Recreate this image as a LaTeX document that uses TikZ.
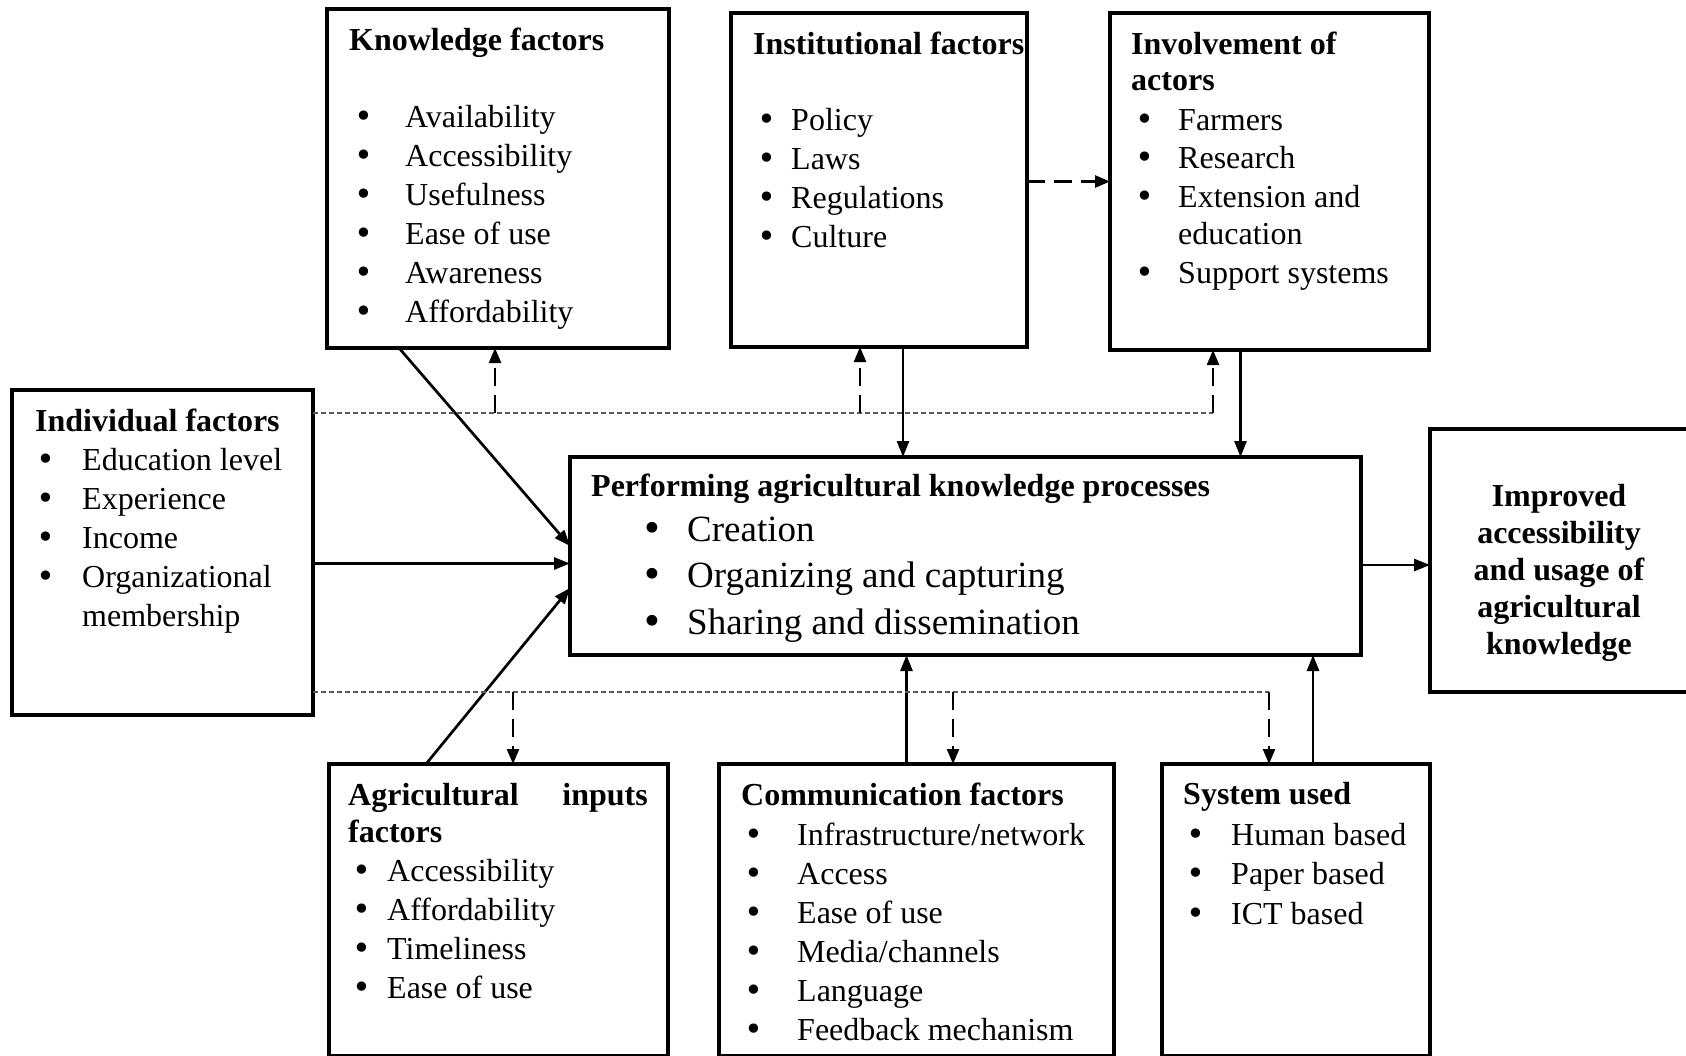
\documentclass[tikz,border=0pt]{standalone}
\usepackage{fontspec}
\setmainfont{Liberation Serif}
\newfontfamily\dvfont{DejaVu Sans}
\usetikzlibrary{arrows.meta,calc}
\newcommand\bl[2]{\makebox[#1][l]{\dvfont •}#2}
\begin{document}
\begin{tikzpicture}[x=1pt,y=-1pt,
  box/.style={draw, line width=3.5pt, anchor=north west, inner sep=0pt, outer sep=0pt},
  txt/.style={font=\fontsize{32}{39}\selectfont, inner sep=0pt, anchor=base west},
  big/.style={font=\fontsize{37}{44}\selectfont, inner sep=0pt, anchor=base west},
  ttl/.style={font=\fontsize{32}{36}\selectfont\bfseries, inner sep=0pt, anchor=base west},
  arr/.style={line width=2.7pt, -{Triangle[length=16pt,width=12pt]}},
  darr/.style={line width=2.5pt, dash pattern=on 18pt off 9pt, -{Triangle[length=15pt,width=12pt]}},
  gline/.style={draw=black!65, line width=1.3pt, dash pattern=on 5pt off 3pt}]
\useasboundingbox (0,0) rectangle (1686,1055);
% boxes
\node[box, minimum width=342pt, minimum height=339pt] (K) at (327,9) {};
\node[box, minimum width=296pt, minimum height=334pt] (I) at (731,13) {};
\node[box, minimum width=319pt, minimum height=337pt] (V) at (1110,13) {};
\node[box, minimum width=301pt, minimum height=325pt] (D) at (12,390) {};
\node[box, minimum width=791pt, minimum height=198pt] (P) at (570,457) {};
\node[box, minimum width=280pt, minimum height=263pt] (R) at (1430,429) {};
\node[box, minimum width=339pt, minimum height=292pt] (A) at (329,764) {};
\node[box, minimum width=395pt, minimum height=292pt] (C) at (719,764) {};
\node[box, minimum width=268pt, minimum height=292pt] (S) at (1162,764) {};
% Knowledge factors
\node[ttl] (kt) at (349,50) {Knowledge factors};
\foreach \t [count=\i] in {Availability,Accessibility,Usefulness,Ease of use,Awareness,Affordability}
  \node[txt] (k\i) at (354,{127+39*(\i-1)}) {\bl{51pt}{\t}};
% Institutional factors
\node[ttl] (it) at (753,54) {Institutional factors};
\foreach \t [count=\i] in {Policy,Laws,Regulations,Culture}
  \node[txt] (i\i) at (757,{130+39*(\i-1)}) {\bl{34pt}{\t}};
% Involvement of actors
\node[ttl] (vt1) at (1131,54) {Involvement of};
\node[ttl] (vt2) at (1131,90) {actors};
\node[txt] (v1) at (1135,130) {\bl{43pt}{Farmers}};
\node[txt] (v2) at (1135,168) {\bl{43pt}{Research}};
\node[txt] (v3) at (1135,207) {\bl{43pt}{Extension and}};
\node[txt] (v4) at (1178,244) {education};
\node[txt] (v5) at (1135,283) {\bl{43pt}{Support systems}};
% Individual factors
\node[ttl] (dt) at (35,431) {Individual factors};
\node[txt] (d1) at (36,470) {\bl{46pt}{Education level}};
\node[txt] (d2) at (36,509) {\bl{46pt}{Experience}};
\node[txt] (d3) at (36,548) {\bl{46pt}{Income}};
\node[txt] (d4) at (36,587) {\bl{46pt}{Organizational}};
\node[txt] (d5) at (82,626) {membership};
% Performing
\node[ttl] (pt) at (591,496) {Performing agricultural knowledge processes};
\foreach \t [count=\i] in {Creation,Organizing and capturing,Sharing and dissemination}
  \node[big] (p\i) at (641,{541+46.5*(\i-1)}) {\bl{46pt}{\t}};
% Improved
\foreach \t [count=\i] in {Improved,accessibility,and usage of,agricultural,knowledge}
  \node[ttl, anchor=base] (r\i) at (1559,{506+37*(\i-1)}) {\t};
% Agricultural inputs factors
\node[ttl] (at1) at (348,805) {Agricultural};
\node[ttl, anchor=base east] (at2) at (648,805) {inputs};
\node[ttl] (at3) at (348,842) {factors};
\foreach \t [count=\i] in {Accessibility,Affordability,Timeliness,Ease of use}
  \node[txt] (a\i) at (352,{881+39*(\i-1)}) {\bl{35pt}{\t}};
% Communication factors
\node[ttl] (ct) at (741,805) {Communication factors};
\foreach \t [count=\i] in {Infrastructure/network,Access,Ease of use,Media/channels,Language,Feedback mechanism}
  \node[txt] (c\i) at (744,{845+39*(\i-1)}) {\bl{53pt}{\t}};
% System used
\node[ttl] (st) at (1183,804) {System used};
\foreach \t [count=\i] in {Human based,Paper based,ICT based}
  \node[txt] (s\i) at (1186,{845+39.5*(\i-1)}) {\bl{45pt}{\t}};
% solid connectors
\draw[arr] ([xshift=72pt]K.south west) -- ([yshift=-89pt]P.north west);
\draw[arr] ([yshift=-11pt]D.east) -- ([yshift=-11pt]D.east -| P.west);
\draw[arr] ([xshift=97pt]A.north west) -- ([yshift=-131pt]P.north west);
\draw[arr] ([xshift=24pt]I.south) -- ([xshift=24pt]I.south |- P.north);
\draw[arr] ([xshift=-29pt]V.south) -- ([xshift=-29pt]V.south |- P.north);
\draw[arr] ([xshift=-10pt]C.north) -- ([xshift=-10pt]C.north |- P.south);
\draw[arr] ([xshift=17pt]S.north) -- ([xshift=17pt]S.north |- P.south);
\draw[arr] ([yshift=-9pt]P.east) -- ([yshift=-9pt]P.east -| R.west);
\draw[darr] ([yshift=-1.5pt]I.east) -- ([yshift=-1.5pt]I.east -| V.west);
% grey dashed feedback lines
\coordinate (gt) at ([yshift=-23pt]D.north east);
\coordinate (gtv) at ([xshift=103pt]V.south west |- gt);
\draw[gline] (gt) -- (gtv);
\draw[darr] ([xshift=168pt]K.south west |- gt) -- ([xshift=168pt]K.south west);
\draw[darr] ([xshift=129pt]I.south west |- gt) -- ([xshift=129pt]I.south west);
\draw[darr] (gtv) -- ([xshift=103pt]V.south west);
\coordinate (gb) at ([yshift=23pt]D.south east);
\coordinate (gbs) at ([xshift=107pt]S.north west |- gb);
\draw[gline] (gb) -- (gbs);
\draw[darr] ([xshift=184pt]A.north west |- gb) -- ([xshift=184pt]A.north west);
\draw[darr] ([xshift=234pt]C.north west |- gb) -- ([xshift=234pt]C.north west);
\draw[darr] (gbs) -- ([xshift=107pt]S.north west);
\end{tikzpicture}
\end{document}
